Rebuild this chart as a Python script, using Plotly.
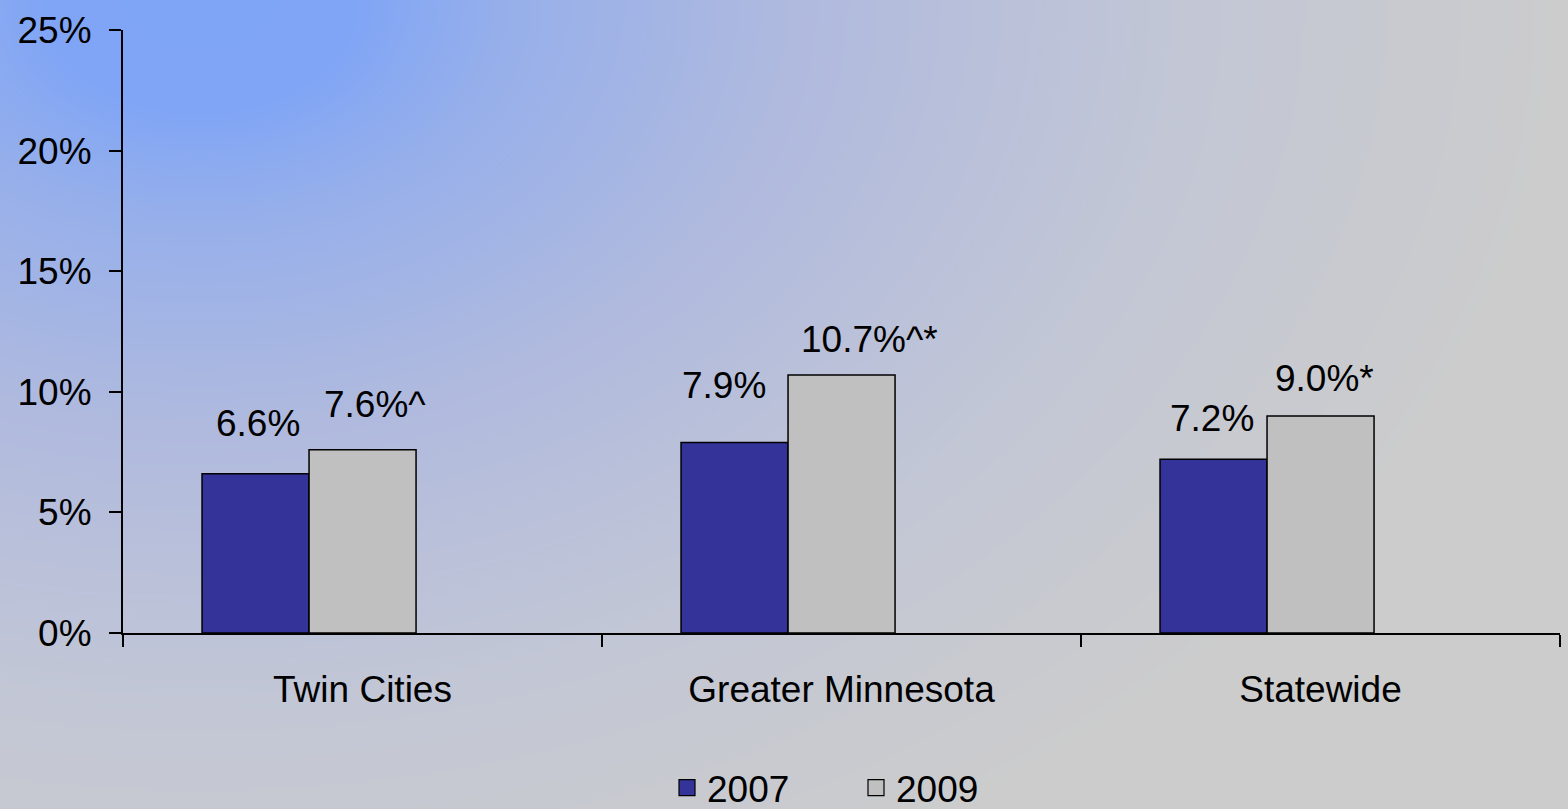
import base64
import struct
import zlib

import numpy as np
import plotly.graph_objects as go

# ---- data -------------------------------------------------------------
regions = ["Twin Cities", "Greater Minnesota", "Statewide"]
years = ["2007", "2009"]
values_2007 = [6.6, 7.9, 7.2]
values_2009 = [7.6, 10.7, 9.0]
flags_2009 = ["^", "^*", "*"]          # significance markers appended to 2009 labels
y_ticks = [0, 5, 10, 15, 20, 25]

# ---- layout geometry ----------------------------------------------------
W, H = 1568, 809
ML, MR, MT, MB = 123, 8, 30, 176
PW, PH = W - ML - MR, H - MT - MB

FONT = "Liberation Sans, Arial, sans-serif"
FS = 37
C2007 = "#333399"
C2009 = "#C0C0C0"

BAR_W = 0.2234
OFFSETS = [-0.335, -0.1116]


def gradient_png(w, h):
    """Radial blue-to-grey wash anchored near the top-left corner."""
    xs = (np.arange(w) + 0.5) * (W / w)
    ys = (np.arange(h) + 0.5) * (H / h)
    X, Y = np.meshgrid(xs, ys)
    d = np.sqrt((X - 200.0) ** 2 + (1.4 * Y) ** 2)
    stops = [0, 150, 300, 600, 1000, 1370]
    cols = np.array([
        (127, 165, 247),
        (128, 165, 246),
        (150, 175, 235),
        (176, 186, 222),
        (195, 199, 213),
        (204, 204, 204),
    ], dtype=float)
    img = np.zeros((h, w, 3))
    for c in range(3):
        img[..., c] = np.interp(d, stops, cols[:, c])
    img = np.clip(np.round(img), 0, 255).astype(np.uint8)
    raw = b"".join(b"\x00" + img[r].tobytes() for r in range(h))

    def chunk(tag, data):
        body = tag + data
        return struct.pack(">I", len(data)) + body + struct.pack(">I", zlib.crc32(body) & 0xFFFFFFFF)

    png = b"\x89PNG\r\n\x1a\n"
    png += chunk(b"IHDR", struct.pack(">IIBBBBB", w, h, 8, 2, 0, 0, 0))
    png += chunk(b"IDAT", zlib.compress(raw, 9))
    png += chunk(b"IEND", b"")
    return "data:image/png;base64," + base64.b64encode(png).decode()


fig = go.Figure()
for name, vals, color, off in [
    (years[0], values_2007, C2007, OFFSETS[0]),
    (years[1], values_2009, C2009, OFFSETS[1]),
]:
    fig.add_trace(go.Bar(
        x=regions, y=vals, name=name, legendgroup=name, showlegend=False,
        width=BAR_W, offset=off,
        marker=dict(color=color, line=dict(color="black", width=1.5)),
        hoverinfo="skip",
    ))
    # legend swatch (larger square than the default bar icon)
    fig.add_trace(go.Scatter(
        x=[None], y=[None], name=name, legendgroup=name, mode="markers",
        marker=dict(symbol="square", size=16, color=color, line=dict(color="black", width=1.2)),
        hoverinfo="skip",
    ))

# value labels above bars
labels_2007 = [f"{v:.1f}%" for v in values_2007]
labels_2009 = [f"{v:.1f}%{f}" for v, f in zip(values_2009, flags_2009)]
shift_2007 = [(2, 37), (-11, 43), (-2, 27)]
shift_2009 = [(12, 32), (28, 22), (4, 24)]
annotations = []
for i in range(len(regions)):
    for vals, labs, shifts, off in [
        (values_2007, labels_2007, shift_2007, OFFSETS[0]),
        (values_2009, labels_2009, shift_2009, OFFSETS[1]),
    ]:
        dx, gap = shifts[i]
        annotations.append(dict(
            x=i + off + BAR_W / 2, y=vals[i], xref="x", yref="y",
            text=labs[i], showarrow=False,
            xanchor="center", yanchor="bottom",
            xshift=dx, yshift=gap - 9,
            font=dict(family=FONT, size=FS, color="black"),
        ))

fig.update_layout(
    width=W, height=H,
    margin=dict(l=ML, r=MR, t=MT, b=MB, autoexpand=False),
    paper_bgcolor="#c8c9cd",
    plot_bgcolor="rgba(0,0,0,0)",
    font=dict(family=FONT, size=FS, color="black"),
    barmode="group",
    showlegend=True,
    legend=dict(
        orientation="h",
        x=(667 - ML) / PW, xanchor="left",
        y=(MT + PH - 788) / PH, yanchor="middle",
        entrywidth=144, entrywidthmode="pixels",
        itemsizing="trace",
        bgcolor="rgba(0,0,0,0)",
        font=dict(family=FONT, size=FS, color="black"),
    ),
    annotations=annotations,
    images=[dict(
        source=gradient_png(392, 202),
        xref="paper", yref="paper",
        x=-ML / PW, y=1 + MT / PH,
        sizex=W / PW, sizey=H / PH,
        xanchor="left", yanchor="top",
        sizing="stretch", layer="below",
    )],
)

fig.update_xaxes(
    type="category", categoryorder="array", categoryarray=regions,
    range=[-0.5, len(regions) - 0.5],
    showline=True, linecolor="black", linewidth=1.5,
    ticks="outside", tickson="boundaries", ticklen=12, tickwidth=1.5, tickcolor="black",
    ticklabelstandoff=23,
    showgrid=False, zeroline=False,
    tickfont=dict(family=FONT, size=FS, color="black"),
)
fig.update_yaxes(
    range=[0, 25], tickvals=y_ticks, ticktext=[f"{t}%" for t in y_ticks],
    showline=True, linecolor="black", linewidth=2,
    ticks="outside", ticklen=12, tickwidth=1.5, tickcolor="black",
    ticklabelstandoff=10,
    showgrid=False, zeroline=False,
    tickfont=dict(family=FONT, size=FS, color="black"),
)

fig.write_html("out.html")
